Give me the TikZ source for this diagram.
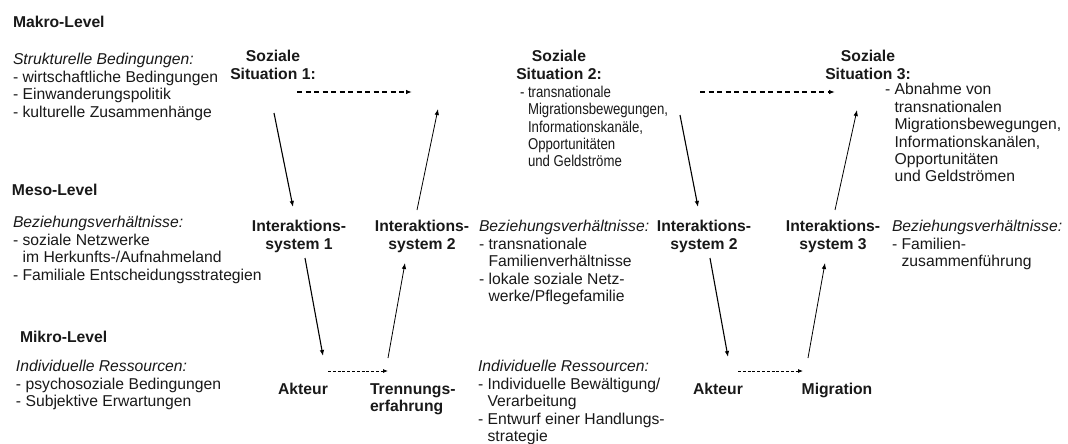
\documentclass[tikz,border=0pt]{standalone}
\usepackage{fontspec}
\usepackage{graphicx}
\setmainfont{Liberation Sans}
\usetikzlibrary{arrows.meta}
\newcommand{\tl}[1]{\begin{tabular}[t]{@{}l@{}}#1\end{tabular}}
\newcommand{\tc}[1]{\begin{tabular}[t]{@{}c@{}}#1\end{tabular}}
\newcommand{\ind}{\hphantom{- }}
\begin{document}
\begin{tikzpicture}[x=1pt,y=-1pt,
  every node/.style={inner sep=0pt, outer sep=0pt, text=black!90, font=\fontsize{15.7}{17.5}\selectfont},
  txt/.style={anchor=base west},
  condtxt/.style={anchor=base west, font=\fontsize{15.7}{17.3}\selectfont},
  bfl/.style={anchor=base west, font=\fontsize{15.7}{17.5}\selectfont\bfseries},
  bfc/.style={anchor=base, font=\fontsize{15.7}{17.5}\selectfont\bfseries},
  downarr/.style={-{Latex[length=6pt,width=4.5pt]}, line width=1.1pt},
  uparr/.style={-{Latex[length=6pt,width=4.5pt]}, line width=0.8pt},
  dasharr/.style={-{Latex[length=6pt,width=4.5pt]}, line width=1.2pt, dash pattern=on 5pt off 3.5pt},
  dotarr/.style={-{Latex[length=5pt,width=4pt]}, line width=0.8pt, dash pattern=on 3pt off 1.8pt}
]
\useasboundingbox[fill=white] (0,0) rectangle (1068,444);

% ---------- left column ----------
\node[bfl] (makro) at (13,28) {Makro-Level};
\node[txt] (strukt) at (13,64.5) {\tl{\textit{Strukturelle Bedingungen:}\\- wirtschaftliche Bedingungen\\- Einwanderungspolitik\\- kulturelle Zusammenhänge}};
\node[bfl] (meso) at (12,195) {Meso-Level};
\node[txt] (bezl) at (13,227.5) {\tl{\textit{Beziehungsverhältnisse:}\\- soziale Netzwerke\\\ind im Herkunfts-/Aufnahmeland\\- Familiale Entscheidungsstrategien}};
\node[bfl] (mikro) at (20,342.5) {Mikro-Level};
\node[txt] (resl) at (16,371.5) {\tl{\textit{Individuelle Ressourcen:}\\- psychosoziale Bedingungen\\- Subjektive Erwartungen}};

% ---------- column 1/2 ----------
\node[bfc] (sit1) at (273,62) {\tc{Soziale\\Situation 1:}};
\node[bfc] (int1) at (299,231.5) {\tc{Interaktions-\\system 1}};
\node[bfc] (akt1) at (303,394) {Akteur};
\node[bfl] (trenn) at (370,394) {\tl{Trennungs-\\erfahrung}};
\node[bfc] (int2a) at (422,231.5) {\tc{Interaktions-\\system 2}};

% ---------- Soziale Situation 2 ----------
\node[bfc] (sit2) at (559,62) {\tc{Soziale\\Situation 2:}};
\node[condtxt] (sit2txt) at (520,97.5) {\scalebox{0.84}[1]{\tl{- transnationale\\\ind Migrationsbewegungen,\\\ind Informationskanäle,\\\ind Opportunitäten\\\ind und Geldströme}}};
\node[txt] (bezm) at (479,231.5) {\tl{\textit{Beziehungsverhältnisse:}\\- transnationale\\\ind Familienverhältnisse\\- lokale soziale Netz-\\\ind werke/Pflegefamilie}};
\node[txt] (resm) at (478,371.5) {\tl{\textit{Individuelle Ressourcen:}\\- Individuelle Bewältigung/\\\ind Verarbeitung\\- Entwurf einer Handlungs-\\\ind strategie}};

% ---------- column 3/4 ----------
\node[bfc] (int2b) at (704,231.5) {\tc{Interaktions-\\system 2}};
\node[bfc] (akt2) at (718,394) {Akteur};
\node[bfc] (migr) at (837,394) {Migration};
\node[bfc] (int3) at (833,231.5) {\tc{Interaktions-\\system 3}};

% ---------- Soziale Situation 3 ----------
\node[bfc] (sit3) at (868,62) {\tc{Soziale\\Situation 3:}};
\node[txt] (sit3txt) at (885,94.5) {\tl{- Abnahme von\\\ind transnationalen\\\ind Migrationsbewegungen,\\\ind Informationskanälen,\\\ind Opportunitäten\\\ind und Geldströmen}};
\node[txt] (bezr) at (892,231.5) {\tl{\textit{Beziehungsverhältnisse:}\\- Familien-\\\ind zusammenführung}};

% ---------- connector end points ----------
\coordinate (s1d) at (297,92);   \coordinate (s2d) at (412,92);
\coordinate (s2e) at (700,92);   \coordinate (s3d) at (835,92);
\coordinate (a1s) at (274,113);  \coordinate (a1e) at (293,207);
\coordinate (b1s) at (305,258);  \coordinate (b1e) at (323,356);
\coordinate (d1s) at (328,371);  \coordinate (d1e) at (388,371);
\coordinate (u1s) at (388,358);  \coordinate (u1e) at (405,263);
\coordinate (u2s) at (417,210);  \coordinate (u2e) at (438,109);
\coordinate (a2s) at (680,115);  \coordinate (a2e) at (698,207);
\coordinate (b2s) at (710,258);  \coordinate (b2e) at (728,357);
\coordinate (d2s) at (738,371);  \coordinate (d2e) at (803,371);
\coordinate (u3s) at (808,358);  \coordinate (u3e) at (825,263);
\coordinate (u4s) at (835,210);  \coordinate (u4e) at (857,110);

\draw[dasharr] (s1d) -- (s2d);
\draw[dasharr] (s2e) -- (s3d);
\draw[downarr] (a1s) -- (a1e);
\draw[downarr] (b1s) -- (b1e);
\draw[dotarr] (d1s) -- (d1e);
\draw[uparr] (u1s) -- (u1e);
\draw[uparr] (u2s) -- (u2e);
\draw[downarr] (a2s) -- (a2e);
\draw[downarr] (b2s) -- (b2e);
\draw[dotarr] (d2s) -- (d2e);
\draw[uparr] (u3s) -- (u3e);
\draw[uparr] (u4s) -- (u4e);
\end{tikzpicture}
\end{document}
